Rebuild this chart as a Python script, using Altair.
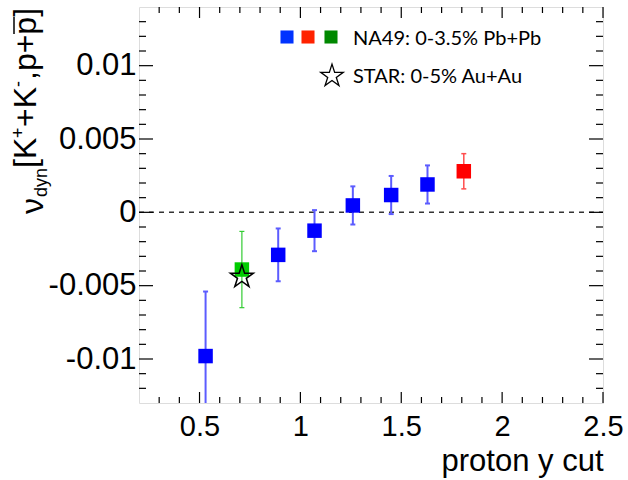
import altair as alt
import pandas as pd

# NA49 0-3.5% Pb+Pb: dynamical fluctuation vs proton rapidity cut
blue_x = [0.53, 0.89, 1.07, 1.26, 1.45, 1.63]
blue_y = [-0.0098, -0.0029, -0.00125, 0.00047, 0.00118, 0.0019]
blue_err = [0.0044, 0.0018, 0.0014, 0.0013, 0.0013, 0.0013]

green_x = [0.71]
green_y = [-0.0039]
green_err = [0.0026]

red_x = [1.81]
red_y = [0.0028]
red_err = [0.0012]

# STAR 0-5% Au+Au
star_x = [0.71]
star_y = [-0.0044]

legend_labels = ["NA49: 0-3.5% Pb+Pb", "STAR: 0-5% Au+Au"]
x_title = "proton y cut"

x_major = [0.5, 1.0, 1.5, 2.0, 2.5]
x_minor = [0.3, 0.4, 0.6, 0.7, 0.8, 0.9, 1.1, 1.2, 1.3, 1.4,
           1.6, 1.7, 1.8, 1.9, 2.1, 2.2, 2.3, 2.4]
y_major = [-0.01, -0.005, 0.0, 0.005, 0.01]
y_minor = [-0.012, -0.011, -0.009, -0.008, -0.007, -0.006, -0.004, -0.003,
           -0.002, -0.001, 0.001, 0.002, 0.003, 0.004, 0.006, 0.007, 0.008,
           0.009, 0.011, 0.012, 0.013]

W, H = 464, 396
FONT = "Liberation Sans"
LEG_FONT = "Lato"
STAR = ("M0,-1 L0.2245,-0.309 L0.951,-0.309 L0.363,0.118 L0.588,0.809 "
        "L0,0.382 L-0.588,0.809 L-0.363,0.118 L-0.951,-0.309 L-0.2245,-0.309 Z")

xs = alt.Scale(domain=[0.2, 2.5], nice=False, zero=False)
ys = alt.Scale(domain=[-0.013, 0.014], nice=False, zero=False)

x_axis = alt.Axis(values=x_major, ticks=False, domain=False, grid=False,
                  labelFont=FONT, labelFontSize=29, labelPadding=9,
                  labelColor="black", labelFlush=False, labelOverlap=False,
                  labelExpr="'' + datum.value",
                  title=x_title, titleFont=FONT, titleFontSize=31,
                  titleFontWeight="normal", titleColor="black",
                  titleX=W, titleY=67, titleAlign="right",
                  titleBaseline="alphabetic")
y_axis = alt.Axis(values=y_major, ticks=False, domain=False, grid=False,
                  labelFont=FONT, labelFontSize=31, labelPadding=3,
                  labelColor="black", labelFlush=False, labelOverlap=False,
                  labelExpr="'' + datum.value", title=None)


def X(field):
    return alt.X(field, type="quantitative", scale=xs, axis=x_axis)


def Y(field):
    return alt.Y(field, type="quantitative", scale=ys, axis=y_axis)


def series(xv, yv, err):
    df = pd.DataFrame({"x": xv, "y": yv, "e": err})
    df["lo"] = df["y"] - df["e"]
    df["hi"] = df["y"] + df["e"]
    return df


def errorbars(df, color, width):
    bar = alt.Chart(df).mark_rule(color=color, strokeWidth=width, clip=True).encode(
        x=X("x"), y=Y("lo"), y2="hi")
    cap_lo = alt.Chart(df).mark_tick(color=color, orient="horizontal", size=5,
                                     thickness=width, clip=True, opacity=1).encode(
        x=X("x"), y=Y("lo"))
    cap_hi = alt.Chart(df).mark_tick(color=color, orient="horizontal", size=5,
                                     thickness=width, clip=True, opacity=1).encode(
        x=X("x"), y=Y("hi"))
    return [bar, cap_lo, cap_hi]


def squares(df, color):
    return alt.Chart(df).mark_square(size=210, color=color, opacity=1).encode(
        x=X("x"), y=Y("y"))


blue = series(blue_x, blue_y, blue_err)
green = series(green_x, green_y, green_err)
red = series(red_x, red_y, red_err)
star = pd.DataFrame({"x": star_x, "y": star_y})

# inward ticks on all four sides of the frame
xmaj = pd.DataFrame({"v": x_major})
xmin = pd.DataFrame({"v": x_minor})
ymaj = pd.DataFrame({"v": y_major})
ymin = pd.DataFrame({"v": y_minor})
tick_layers = []
for df, ln in [(xmaj, 11), (xmin, 6)]:
    tick_layers.append(alt.Chart(df).mark_rule(color="black", strokeWidth=1.2).encode(
        x=X("v"), y=alt.value(H), y2=alt.value(H - ln)))
    tick_layers.append(alt.Chart(df).mark_rule(color="black", strokeWidth=1.2).encode(
        x=X("v"), y=alt.value(0), y2=alt.value(ln)))
for df, ln in [(ymaj, 14), (ymin, 7)]:
    tick_layers.append(alt.Chart(df).mark_rule(color="black", strokeWidth=1.2).encode(
        y=Y("v"), x=alt.value(0), x2=alt.value(ln)))
    tick_layers.append(alt.Chart(df).mark_rule(color="black", strokeWidth=1.2).encode(
        y=Y("v"), x=alt.value(W), x2=alt.value(W - ln)))

zero_line = alt.Chart(pd.DataFrame({"v": [0.0]})).mark_rule(
    color="#333333", strokeDash=[5, 5], strokeWidth=1.5).encode(
    y=Y("v"), x=alt.value(0), x2=alt.value(W))

star_mark = alt.Chart(star).mark_point(shape=STAR, size=585, filled=False,
                                       stroke="black", strokeWidth=1.5,
                                       opacity=1).encode(x=X("x"), y=Y("y"))

# legend
one = alt.Data(values=[{"k": 0}])
leg_sq = []
for cx, col in [(148, "#0033ff"), (169, "#ff2200"), (192, "#008800")]:
    leg_sq.append(alt.Chart(one).mark_square(size=170, color=col, opacity=1).encode(
        x=alt.value(cx), y=alt.value(30)))
leg_star = alt.Chart(one).mark_point(shape=STAR, size=560, filled=False,
                                     stroke="black", strokeWidth=1.3,
                                     opacity=1).encode(
    x=alt.value(193), y=alt.value(69))
leg_txt = []
for lbl, by in zip(legend_labels, [38, 76]):
    leg_txt.append(alt.Chart(pd.DataFrame({"t": [lbl]})).mark_text(
        font=LEG_FONT, fontSize=20, align="left", baseline="alphabetic",
        color="black").encode(x=alt.value(214), y=alt.value(by), text="t:N"))


# rotated y title: nu_dyn[K^+ + K^-, p + pbar]
def vtext(txt, size, bx, sy):
    return alt.Chart(one).mark_text(
        text=txt, font=FONT, fontSize=size, angle=270, align="left",
        baseline="alphabetic", color="black").encode(
        x=alt.value(bx - 139), y=alt.value(sy - 7))


ytitle = [
    vtext("ν", 32, 43, 214),
    vtext("dyn", 18, 47, 197),
    vtext("[K", 32, 36, 168),
    vtext("+", 18, 24, 138),
    vtext("+K", 32, 36, 127),
    vtext("-", 18, 24, 87),
    vtext(",p+p]", 32, 36, 80),
]
overline = alt.Chart(one).mark_rule(color="black", strokeWidth=1.5).encode(
    x=alt.value(14 - 139), y=alt.value(34 - 7), y2=alt.value(17 - 7))

layers = (
    [zero_line]
    + tick_layers
    + errorbars(blue, "#5c5cff", 2)
    + errorbars(green, "#33cc33", 1.2)
    + errorbars(red, "#ff4d4d", 1.5)
    + [squares(blue, "#0000ff"), squares(green, "#00cc00"), squares(red, "#ff0000"),
       star_mark]
    + leg_sq + [leg_star] + leg_txt + ytitle + [overline]
)

chart = alt.layer(*layers).properties(
    width=W, height=H,
    padding={"left": 139, "top": 7, "right": 25, "bottom": 77},
    autosize=alt.AutoSizeParams(type="none"),
).configure_view(stroke="black", strokeWidth=1.5).configure(background="white")

chart.save("out.html", embed_options={"renderer": "svg", "actions": False})
